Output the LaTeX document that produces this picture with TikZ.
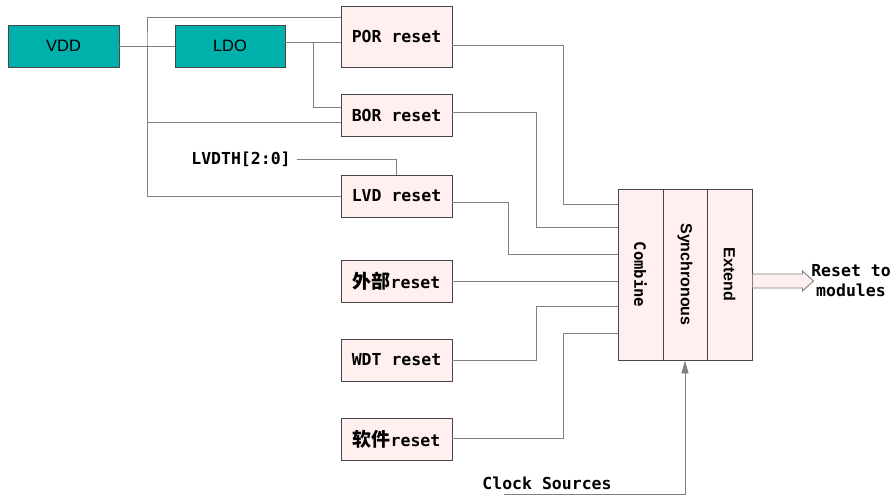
\documentclass[tikz,border=0pt]{standalone}
\usepackage{fontspec}
\usepackage{tikz}
\usetikzlibrary{arrows.meta, positioning}
\setmainfont{Liberation Sans}
\setmonofont{DejaVu Sans Mono}
\newfontfamily\cjk{Noto Sans CJK SC}
\definecolor{pwrcolor}{RGB}{0, 176, 170}
\definecolor{rstcolor}{RGB}{255, 239, 239}
\definecolor{edgecolor}{RGB}{70, 70, 70}
\definecolor{wirecolor}{RGB}{128, 128, 128}

\begin{document}
\begin{tikzpicture}[
    x=1pt, y=-1pt,
    pwrbox/.style={draw=edgecolor, fill=pwrcolor, line width=0.9pt, minimum width=111pt, minimum height=42pt, font=\fontsize{16.5}{20}\selectfont},
    rstbox/.style={draw=edgecolor, fill=rstcolor, line width=0.9pt, minimum width=111pt, minimum height=42pt, font=\fontsize{16.5}{20}\selectfont\ttfamily\bfseries},
    blockcol/.style={draw=edgecolor, fill=rstcolor, line width=0.9pt, minimum height=171pt, inner sep=0pt},
    label/.style={font=\fontsize{16.5}{20}\selectfont\ttfamily\bfseries},
    wire/.style={draw=wirecolor, line width=0.9pt}
]
\useasboundingbox (0,0) rectangle (893,495);

% Supply
\node[pwrbox] (vdd) at (63.5,46) {VDD};
\node[pwrbox, minimum width=110pt] (ldo) at (230,46) {LDO};

% Reset sources
\node[rstbox, minimum height=61pt] (por) at (396.5,36.5) {POR reset};
\node[rstbox] (bor) at (396.5,115) {BOR reset};
\node[rstbox] (lvd) at (396.5,196) {LVD reset};
\node[rstbox] (extrst) at (396.5,281) {{\cjk\bfseries\fontsize{19}{20}\selectfont 外部}reset};
\node[rstbox] (wdt) at (396.5,360) {WDT reset};
\node[rstbox] (soft) at (396.5,439.5) {{\cjk\bfseries\fontsize{19}{20}\selectfont 软件}reset};

\node[label, inner sep=6pt] (lvdth) at (241,159) {LVDTH[2:0]};

% Reset block
\node[blockcol, minimum width=45pt] (combine) at (640.5,274.5) {};
\node[blockcol, minimum width=44pt] (sync) at (685,274.5) {};
\node[blockcol, minimum width=45pt] (extend) at (729.5,274.5) {};
\node[label, font=\fontsize{15.5}{18}\selectfont\ttfamily\bfseries, rotate=-90] at (combine) {Combine};
\node[font=\fontsize{16}{18}\selectfont\bfseries, rotate=-90] at (sync) {Synchronous};
\node[font=\fontsize{16}{18}\selectfont\bfseries, rotate=-90] at (extend) {Extend};

\node[label, align=center] (out) at (851,281) {Reset to\\modules};
\node[label] (clk) at (547,483) {Clock Sources};

% Supply wiring
\coordinate (bus) at (147,46);
\draw[wire] (vdd.east) -- (ldo.west);
\draw[wire] ([yshift=19.5pt]por.west) -| (bus) |- (lvd.west);
\draw[wire] ([yshift=-7pt]bor.west) -| (bus);
\draw[wire] ([yshift=4pt]ldo.east) -- ([yshift=-5.5pt]por.west) coordinate[pos=0.5] (ldotap);
\draw[wire] (ldotap) |- ([yshift=8pt]bor.west);
\draw[wire] (lvdth.east) -| (lvd.north);

% Reset inputs
\draw[wire] ([yshift=-8.5pt]por.east) -- ++(111,0) |- ([yshift=-16pt]combine.north west);
\draw[wire] ([yshift=3pt]bor.east) -- ++(83.5,0) |- ([yshift=-39pt]combine.north west);
\draw[wire] ([yshift=-6pt]lvd.east) -- ++(56,0) |- ([yshift=-66pt]combine.north west);
\draw[wire] (extrst.east) -- (extrst.east -| combine.west);
\draw[wire] (wdt.east) -- ++(83.5,0) |- ([yshift=-118pt]combine.north west);
\draw[wire] ([yshift=1.5pt]soft.east) -- ++(111,0) |- ([yshift=-145pt]combine.north west);

% Clock and output
\draw[wire, -{Triangle[width=7pt,length=13pt]}, wirecolor] ([xshift=25pt,yshift=-2pt]clk.south west) -| (sync.south);
\draw[draw=wirecolor, fill=rstcolor, line width=0.9pt] ([yshift=-6.5pt]extend.east) -- ++(0,-7) -- ++(50,0) -- ++(0,-3) -- ++(11,10) -- ++(-11,10) -- ++(0,-3) -- ++(-50,0) -- cycle;

\end{tikzpicture}
\end{document}
